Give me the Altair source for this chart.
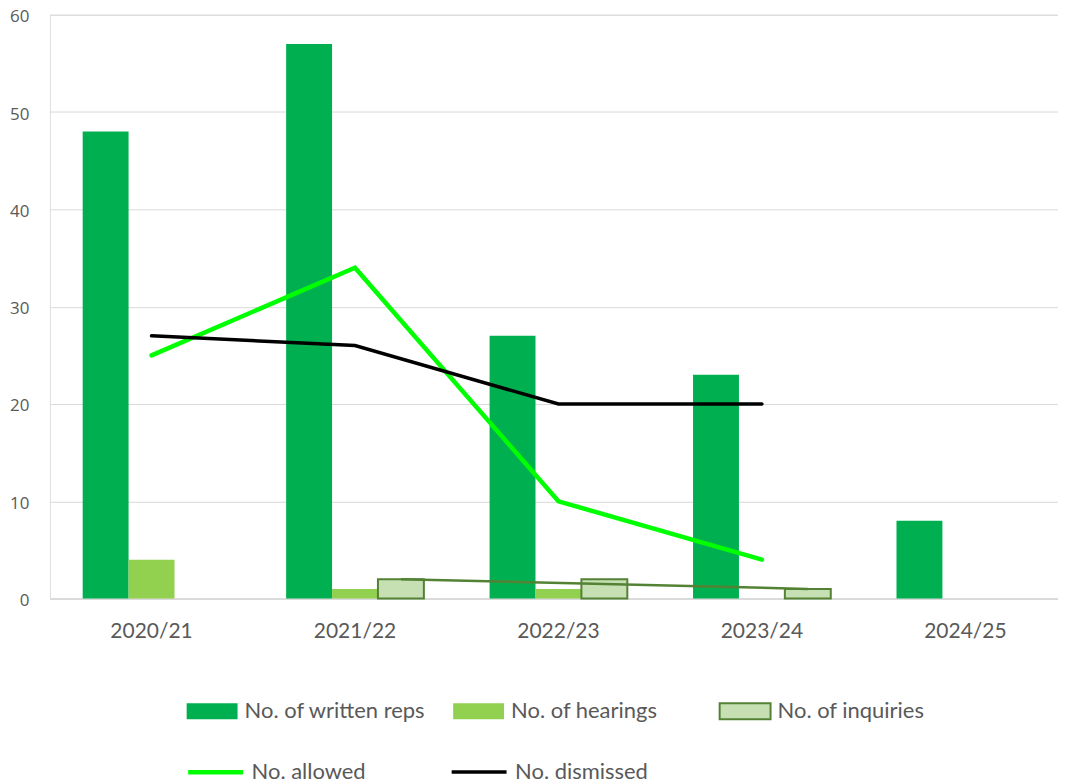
import altair as alt
import pandas as pd

years = ["2020/21", "2021/22", "2022/23", "2023/24", "2024/25"]
written_reps = [48, 57, 27, 23, 8]
hearings = [4, 1, 1, 0, 0]
inquiries = [0, 2, 2, 1, 0]
allowed = [25, 34, 10, 4, None]
dismissed = [27, 26, 20, 20, None]
inq_trend_years = ["2021/22", "2023/24"]
inq_trend_vals = [2, 1]

bar_names = ["No. of written reps", "No. of hearings", "No. of inquiries"]
line_names = ["No. allowed", "No. dismissed"]

rows = []
for name, vals in zip(bar_names, [written_reps, hearings, inquiries]):
    for y, v in zip(years, vals):
        if v:
            rows.append({"year": y, "series": name, "value": v})
bars_df = pd.DataFrame(rows)

lrows = []
for name, vals in zip(line_names, [allowed, dismissed]):
    for y, v in zip(years, vals):
        if v is not None:
            lrows.append({"year": y, "lseries": name, "value": v})
lines_df = pd.DataFrame(lrows)

trend_df = pd.DataFrame({"year": inq_trend_years, "value": inq_trend_vals,
                         "series": ["No. of inquiries"] * len(inq_trend_years)})

TXT = "#595959"
LBL = "Lato"

xscale = alt.Scale(domain=years, range=[0, 1019], paddingInner=0.323, paddingOuter=0.161)
yscale = alt.Scale(domain=[0, 60], nice=False)

x_enc = alt.X("year:N", scale=xscale, sort=years, title=None,
              axis=alt.Axis(labelAngle=0, ticks=False, grid=False,
                            domainColor="#d9d9d9", domainWidth=1.5,
                            labelFont=LBL, labelFontSize=21, labelColor=TXT,
                            labelBaseline="alphabetic", labelPadding=39))
y_enc = alt.Y("value:Q", scale=yscale, title=None,
              axis=alt.Axis(values=[0, 10, 20, 30, 40, 50, 60], ticks=False, domain=False,
                            gridColor="#d9d9d9", gridWidth=1,
                            labelFont="Open Sans", labelFontSize=17, labelColor=TXT,
                            labelPadding=21, labelOffset=2))

bar_legend = alt.Legend(
    title=None, orient="none", legendX=136, legendY=671,
    direction="horizontal", columns=3, gridAlign="all",
    columnPadding=23, padding=0, labelLimit=400,
    symbolType="M-1,-0.314L1,-0.314L1,0.314L-1,0.314Z",
    symbolSize=2601, symbolStrokeWidth=2, labelOffset=6,
    symbolStrokeColor={"expr": "datum.value === 'No. of inquiries' ? '#548235' : 'transparent'"},
    labelFont=LBL, labelFontSize=22, labelColor=TXT,
)

bars = alt.Chart(bars_df).mark_bar(strokeWidth=2).encode(
    x=x_enc,
    xOffset=alt.XOffset("series:N", sort=bar_names,
                        scale=alt.Scale(domain=bar_names, paddingInner=0, paddingOuter=0)),
    y=y_enc,
    fill=alt.Fill("series:N", sort=bar_names,
                  scale=alt.Scale(domain=bar_names, range=["#00B050", "#92D050", "#C6E0B4"]),
                  legend=bar_legend),
    stroke=alt.condition(alt.datum.series == "No. of inquiries",
                         alt.value("#548235"), alt.value("transparent")),
)

trend = alt.Chart(trend_df).mark_line(stroke="#548235", strokeWidth=2.5).encode(
    x=alt.X("year:N", sort=years),
    xOffset=alt.XOffset("series:N"),
    y=alt.Y("value:Q"),
)

line_legend = alt.Legend(
    title=None, orient="none", legendX=136, legendY=729,
    direction="horizontal", columns=2, gridAlign="all",
    columnPadding=59, padding=0, labelLimit=400,
    symbolType="stroke", symbolSize=3025, labelOffset=6,
    labelFont=LBL, labelFontSize=22, labelColor=TXT,
)

lines = alt.Chart(lines_df).mark_line(strokeCap="round").encode(
    x=alt.X("year:N", sort=years),
    y=alt.Y("value:Q"),
    stroke=alt.Stroke("lseries:N", sort=line_names,
                      scale=alt.Scale(domain=line_names, range=["#00FF00", "#000000"]),
                      legend=line_legend),
    strokeWidth=alt.StrokeWidth("lseries:N", sort=line_names,
                                scale=alt.Scale(domain=line_names, range=[4.5, 3.5]),
                                legend=line_legend),
    order=alt.Order("year:N"),
)

chart = alt.layer(bars, trend, lines).properties(
    width=1010, height=585,
    autosize=alt.AutoSizeParams(type="none"),
    padding={"left": 42, "top": 6, "right": 0, "bottom": 185},
).configure_view(stroke=None).configure(background="white")

chart.save("out.html", embed_options={"renderer": "svg", "actions": False})
